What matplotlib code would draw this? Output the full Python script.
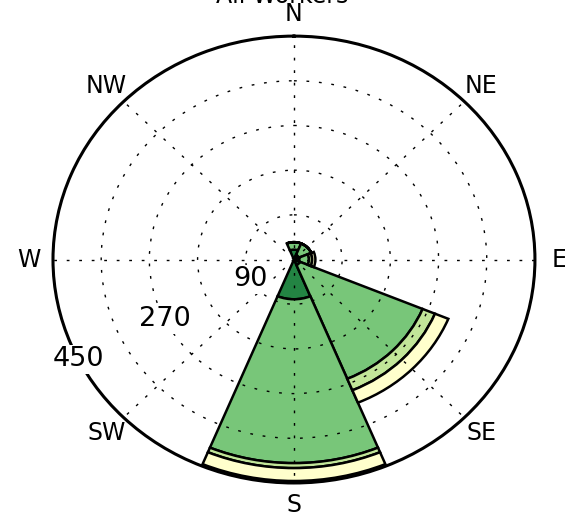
import numpy as np
import matplotlib.pyplot as plt

directions = ['N', 'NE', 'E', 'SE', 'S', 'SW', 'W', 'NW']
bearings = [0, 45, 90, 135, 180, 225, 270, 315]

# counts per speed bin, stacked from the centre outward
bin1 = [20, 10, 10, 12, 80, 0, 0, 0]
bin2 = [15, 25, 18, 248, 330, 0, 0, 0]
bin3 = [0, 0, 6, 25, 10, 0, 0, 0]
bin4 = [0, 0, 6, 27, 26, 0, 0, 0]
bin_colors = ['#238443', '#78c679', '#c2e699', '#ffffcc']

radii = [90, 180, 270, 360, 450]
radii_labels = ['90', '', '270', '', '450']
rmax = 450

fig = plt.figure(figsize=(5.65, 5.16), dpi=100)
ax = fig.add_axes([0.0938, 0.064, 0.853, 0.866], projection='polar')
ax.set_aspect('auto')
ax.set_theta_zero_location('N')
ax.set_theta_direction(-1)

theta = np.deg2rad(bearings)
width = np.deg2rad(45)
bottom = np.zeros(len(bearings))
for vals, col in zip([bin1, bin2, bin3, bin4], bin_colors):
    ax.bar(theta, vals, width=width, bottom=bottom, color=col,
           edgecolor='k', linewidth=1.8)
    bottom = bottom + np.array(vals)

ax.set_rlim(0, rmax)
ax.set_thetagrids(bearings, [''] * len(bearings))
ax.set_rgrids(radii, [''] * len(radii))
ax.grid(True, color='k', linestyle=(0, (2, 7)), linewidth=1)
ax.spines['polar'].set_linewidth(2.2)

# compass labels just outside the frame, at 1.1 x rmax
for t, lab in zip(theta, directions):
    ax.text(t, rmax * 1.1, lab, ha='center', va='center', fontsize=17,
            clip_on=False)

# radius labels sit on a white patch so they mask the grid and frame
for r, lab in zip(radii, radii_labels):
    if lab:
        ax.text(np.deg2rad(243.5), r, lab, ha='center', va='center',
                fontsize=19.5, zorder=5,
                bbox=dict(facecolor='white', edgecolor='none', pad=1))

fig.text(0.5, 1 - 3 / 516, 'All Workers', ha='center', va='baseline', fontsize=17)

fig.savefig('out.png', dpi=100)
